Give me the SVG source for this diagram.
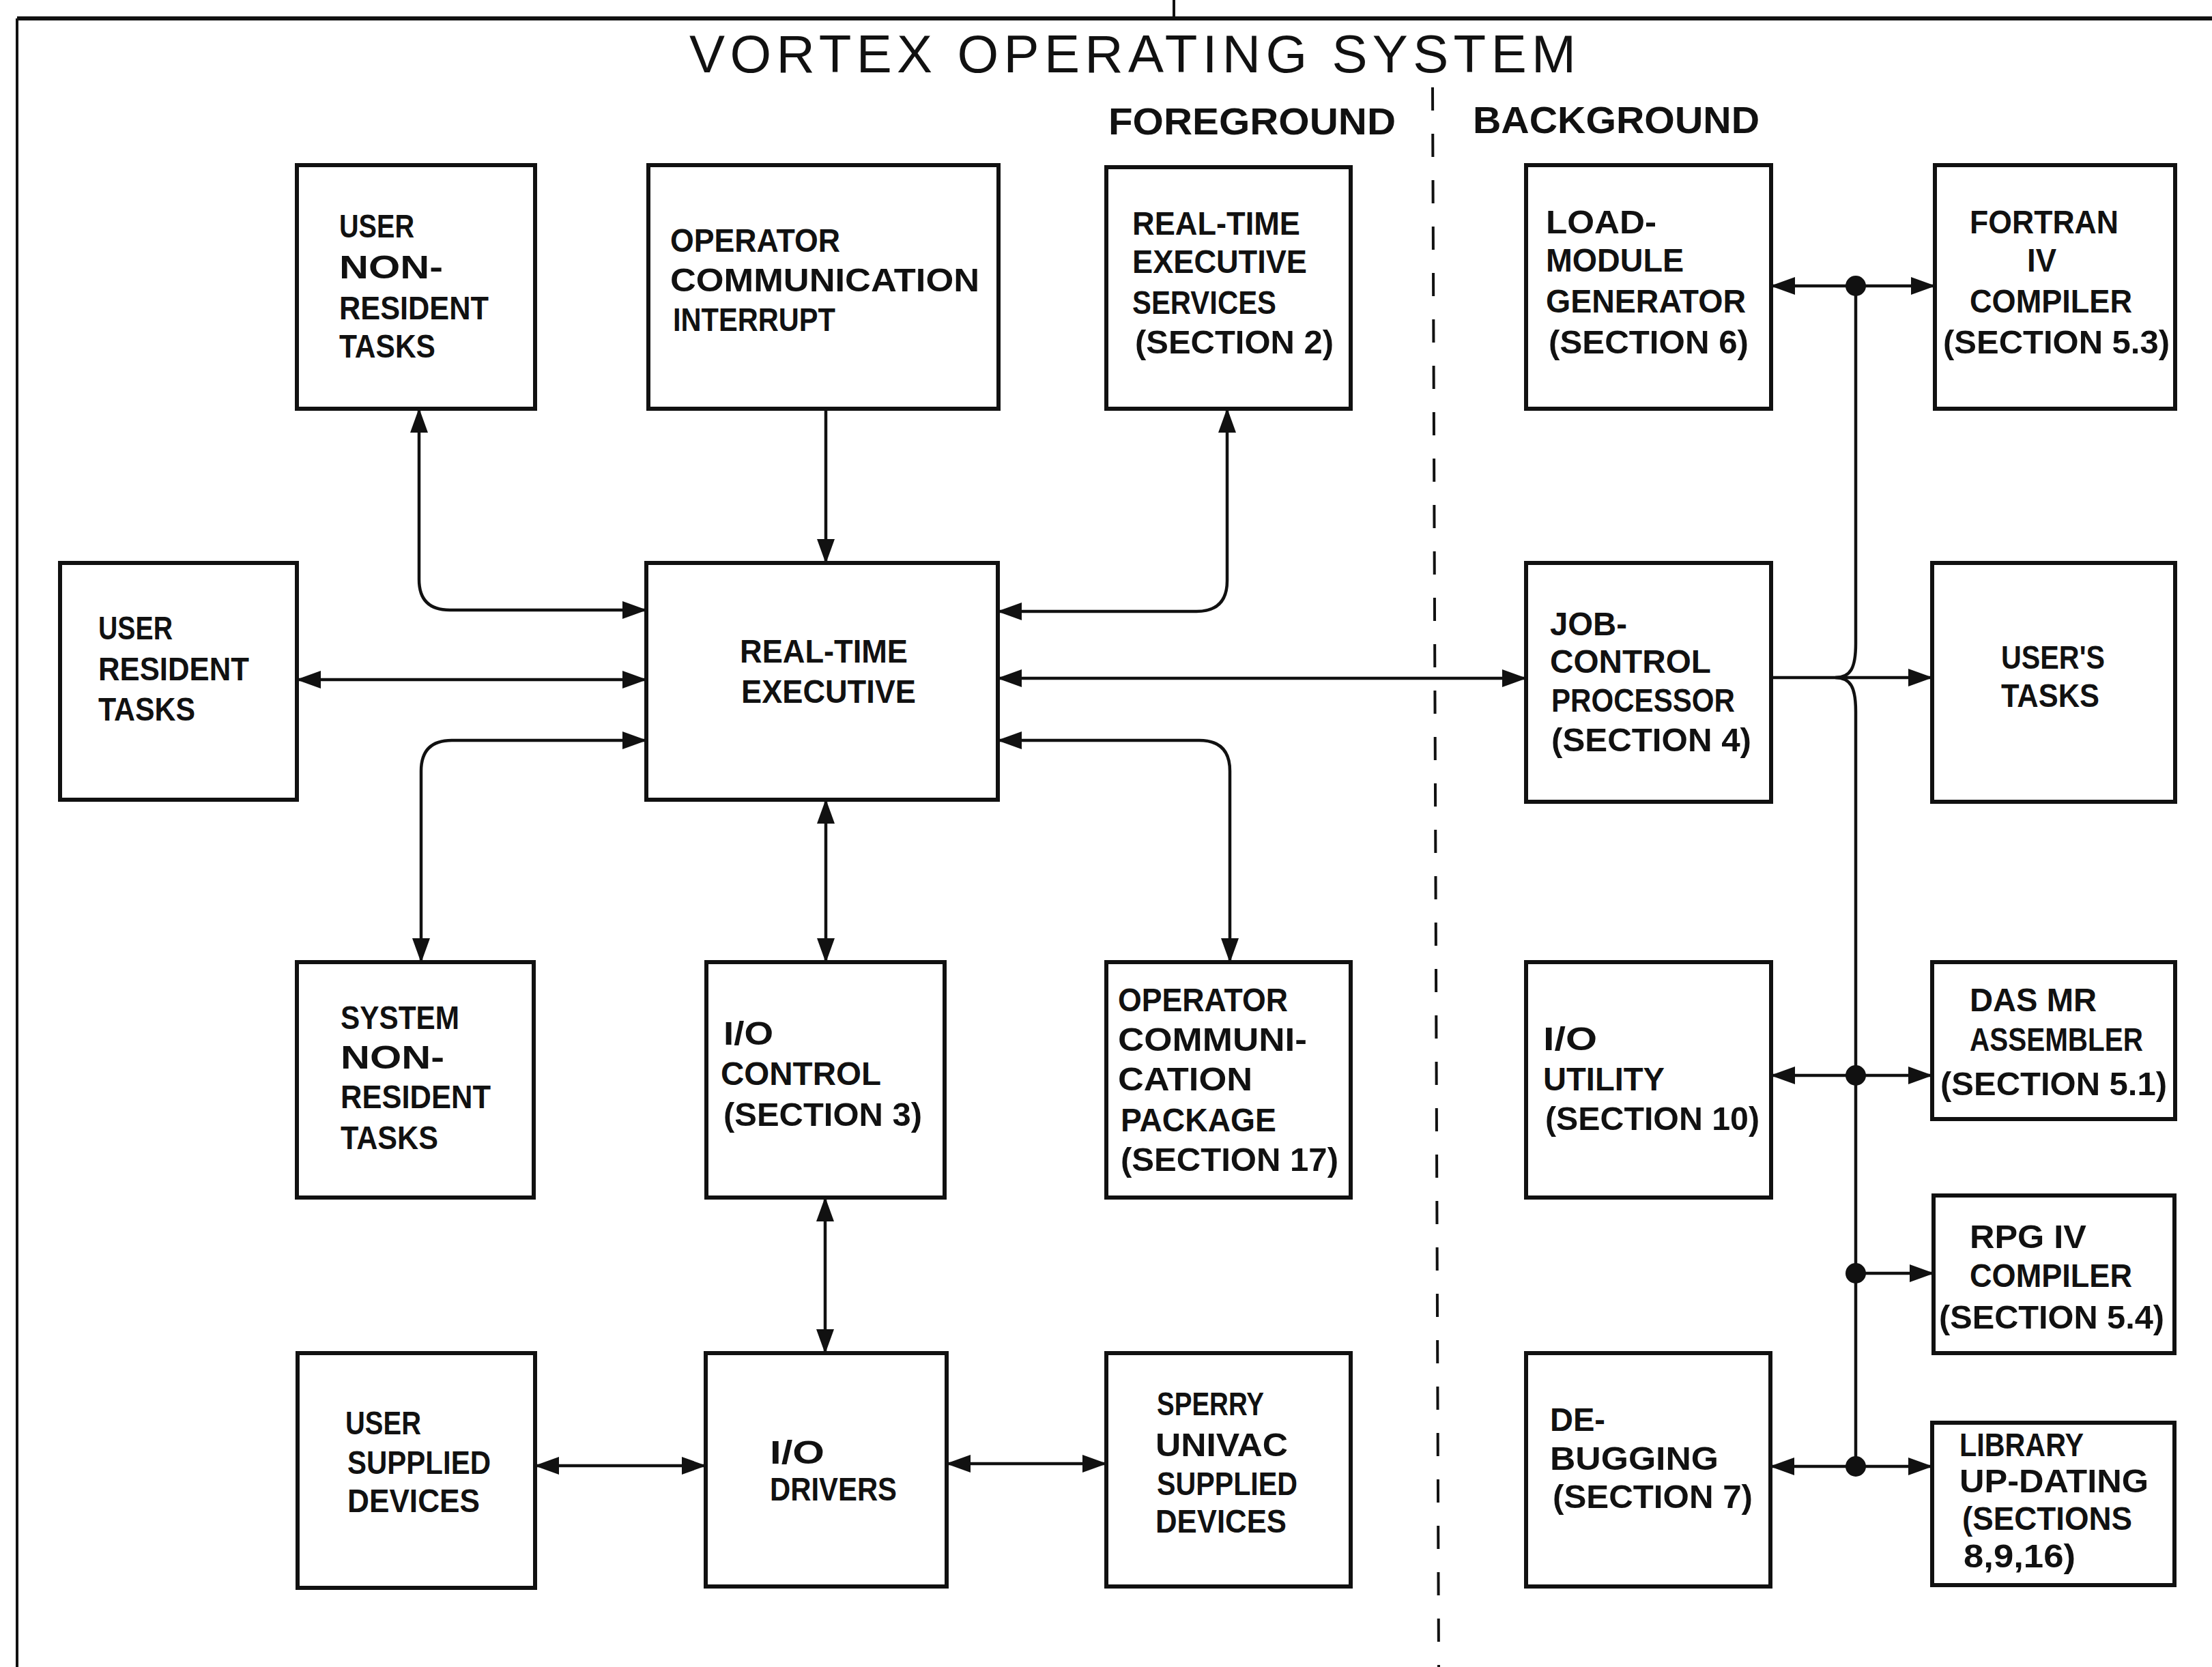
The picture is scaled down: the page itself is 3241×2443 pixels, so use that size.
<svg xmlns="http://www.w3.org/2000/svg" width="3241" height="2443" viewBox="0 0 3241 2443">
<style>
.bg{fill:#fff}
.box{fill:none;stroke:#111;stroke-width:6}
.lbl{font-family:"Liberation Sans",Arial,sans-serif;font-weight:bold;font-size:48px;fill:#111}
.hdr{font-family:"Liberation Sans",Arial,sans-serif;font-weight:bold;font-size:56px;fill:#111}
.title{font-family:"Liberation Sans",Arial,sans-serif;font-size:78px;fill:#111}
.ln{fill:none;stroke:#111;stroke-width:4.5}
.ar{marker-start:url(#ah);marker-end:url(#ah)}
.ae{marker-end:url(#ah)}
.dot{fill:#111}
</style>
<defs>
<marker id="ah" markerUnits="userSpaceOnUse" markerWidth="36" markerHeight="26" refX="35" refY="13" orient="auto-start-reverse">
<path d="M0,0 L36,13 L0,26 z" fill="#111"/>
</marker>
</defs>
<rect class="bg" x="0" y="0" width="3241" height="2443"/>
<g id="frame">
<line x1="25" y1="27" x2="3241" y2="27" stroke="#111" stroke-width="6"/>
<line x1="25" y1="27" x2="25" y2="2443" stroke="#111" stroke-width="4"/>
<line x1="1720" y1="0" x2="1720" y2="27" stroke="#111" stroke-width="4"/>
<line x1="2099" y1="128" x2="2108" y2="2443" stroke="#111" stroke-width="4" stroke-dasharray="34 34"/>
<text class="title" x="1010" y="106" textLength="1299" lengthAdjust="spacing">VORTEX OPERATING SYSTEM</text>
<text class="hdr" x="1624" y="197" textLength="421" lengthAdjust="spacingAndGlyphs">FOREGROUND</text>
<text class="hdr" x="2158" y="195" textLength="420" lengthAdjust="spacingAndGlyphs">BACKGROUND</text>
</g>
<g id="connectors">
<path class="ln ar" d="M614,599 L614,849 Q614,894 659,894 L947,894"/>
<path class="ln ar" d="M435,996 H947"/>
<path class="ln ar" d="M947,1085 L662,1085 Q617,1085 617,1130 L617,1410"/>
<path class="ln ae" d="M1210,599 V825"/>
<path class="ln ar" d="M1798,599 L1798,851 Q1798,896 1753,896 L1462,896"/>
<path class="ln ar" d="M1462,994 H2236"/>
<path class="ln ar" d="M1462,1085 L1757,1085 Q1802,1085 1802,1130 L1802,1410"/>
<path class="ln ar" d="M1210,1172 V1410"/>
<path class="ln ar" d="M1209,1755 V1983"/>
<path class="ln ar" d="M784,2148 H1034"/>
<path class="ln ar" d="M1387,2145 H1621"/>
<path class="ln" d="M2719,419 L2719,943 C2719,978 2712,993 2689,993 C2712,993 2719,1008 2719,1043 L2719,2149"/>
<path class="ln ae" d="M2595,993 H2831"/>
<path class="ln ar" d="M2595,419 H2835"/>
<path class="ln ar" d="M2595,1576 H2831"/>
<path class="ln ae" d="M2719,1866 H2833"/>
<path class="ln ar" d="M2594,2149 H2831"/>
<circle class="dot" cx="2719" cy="419" r="15"/>
<circle class="dot" cx="2719" cy="1576" r="15"/>
<circle class="dot" cx="2719" cy="1866" r="15"/>
<circle class="dot" cx="2719" cy="2149" r="15"/>
</g>
<g id="user-non-resident-tasks">
<rect class="box" x="435" y="242" width="349" height="357"/>
<text class="lbl" x="497" y="348" textLength="110" lengthAdjust="spacingAndGlyphs">USER</text>
<text class="lbl" x="497" y="408" textLength="152" lengthAdjust="spacingAndGlyphs">NON-</text>
<text class="lbl" x="497" y="468" textLength="219" lengthAdjust="spacingAndGlyphs">RESIDENT</text>
<text class="lbl" x="497" y="524" textLength="141" lengthAdjust="spacingAndGlyphs">TASKS</text>
</g>
<g id="operator-communication-interrupt">
<rect class="box" x="950" y="242" width="513" height="357"/>
<text class="lbl" x="982" y="369" textLength="249" lengthAdjust="spacingAndGlyphs">OPERATOR</text>
<text class="lbl" x="982" y="427" textLength="453" lengthAdjust="spacingAndGlyphs">COMMUNICATION</text>
<text class="lbl" x="986" y="485" textLength="238" lengthAdjust="spacingAndGlyphs">INTERRUPT</text>
</g>
<g id="real-time-executive-services">
<rect class="box" x="1621" y="245" width="358" height="354"/>
<text class="lbl" x="1659" y="344" textLength="246" lengthAdjust="spacingAndGlyphs">REAL-TIME</text>
<text class="lbl" x="1659" y="400" textLength="256" lengthAdjust="spacingAndGlyphs">EXECUTIVE</text>
<text class="lbl" x="1659" y="460" textLength="211" lengthAdjust="spacingAndGlyphs">SERVICES</text>
<text class="lbl" x="1663" y="518" textLength="291" lengthAdjust="spacingAndGlyphs">(SECTION 2)</text>
</g>
<g id="load-module-generator">
<rect class="box" x="2236" y="242" width="359" height="357"/>
<text class="lbl" x="2265" y="342" textLength="162" lengthAdjust="spacingAndGlyphs">LOAD-</text>
<text class="lbl" x="2265" y="398" textLength="202" lengthAdjust="spacingAndGlyphs">MODULE</text>
<text class="lbl" x="2265" y="458" textLength="293" lengthAdjust="spacingAndGlyphs">GENERATOR</text>
<text class="lbl" x="2269" y="518" textLength="293" lengthAdjust="spacingAndGlyphs">(SECTION 6)</text>
</g>
<g id="fortran-iv-compiler">
<rect class="box" x="2835" y="242" width="352" height="357"/>
<text class="lbl" x="2886" y="342" textLength="218" lengthAdjust="spacingAndGlyphs">FORTRAN</text>
<text class="lbl" x="2970" y="398" textLength="43" lengthAdjust="spacingAndGlyphs">IV</text>
<text class="lbl" x="2886" y="458" textLength="238" lengthAdjust="spacingAndGlyphs">COMPILER</text>
<text class="lbl" x="2847" y="518" textLength="332" lengthAdjust="spacingAndGlyphs">(SECTION 5.3)</text>
</g>
<g id="user-resident-tasks">
<rect class="box" x="88" y="825" width="347" height="347"/>
<text class="lbl" x="144" y="937" textLength="109" lengthAdjust="spacingAndGlyphs">USER</text>
<text class="lbl" x="144" y="997" textLength="221" lengthAdjust="spacingAndGlyphs">RESIDENT</text>
<text class="lbl" x="144" y="1056" textLength="142" lengthAdjust="spacingAndGlyphs">TASKS</text>
</g>
<g id="real-time-executive">
<rect class="box" x="947" y="825" width="515" height="347"/>
<text class="lbl" x="1084" y="971" textLength="246" lengthAdjust="spacingAndGlyphs">REAL-TIME</text>
<text class="lbl" x="1086" y="1030" textLength="256" lengthAdjust="spacingAndGlyphs">EXECUTIVE</text>
</g>
<g id="job-control-processor">
<rect class="box" x="2236" y="825" width="359" height="350"/>
<text class="lbl" x="2271" y="931" textLength="113" lengthAdjust="spacingAndGlyphs">JOB-</text>
<text class="lbl" x="2271" y="986" textLength="236" lengthAdjust="spacingAndGlyphs">CONTROL</text>
<text class="lbl" x="2273" y="1043" textLength="269" lengthAdjust="spacingAndGlyphs">PROCESSOR</text>
<text class="lbl" x="2273" y="1101" textLength="293" lengthAdjust="spacingAndGlyphs">(SECTION 4)</text>
</g>
<g id="users-tasks">
<rect class="box" x="2831" y="825" width="356" height="350"/>
<text class="lbl" x="2932" y="980" textLength="152" lengthAdjust="spacingAndGlyphs">USER'S</text>
<text class="lbl" x="2932" y="1036" textLength="144" lengthAdjust="spacingAndGlyphs">TASKS</text>
</g>
<g id="system-non-resident-tasks">
<rect class="box" x="435" y="1410" width="347" height="345"/>
<text class="lbl" x="499" y="1508" textLength="174" lengthAdjust="spacingAndGlyphs">SYSTEM</text>
<text class="lbl" x="499" y="1566" textLength="152" lengthAdjust="spacingAndGlyphs">NON-</text>
<text class="lbl" x="499" y="1624" textLength="220" lengthAdjust="spacingAndGlyphs">RESIDENT</text>
<text class="lbl" x="499" y="1684" textLength="143" lengthAdjust="spacingAndGlyphs">TASKS</text>
</g>
<g id="io-control">
<rect class="box" x="1035" y="1410" width="349" height="345"/>
<text class="lbl" x="1060" y="1531" textLength="73" lengthAdjust="spacingAndGlyphs">I/O</text>
<text class="lbl" x="1056" y="1590" textLength="235" lengthAdjust="spacingAndGlyphs">CONTROL</text>
<text class="lbl" x="1060" y="1650" textLength="291" lengthAdjust="spacingAndGlyphs">(SECTION 3)</text>
</g>
<g id="operator-communication-package">
<rect class="box" x="1621" y="1410" width="358" height="345"/>
<text class="lbl" x="1638" y="1482" textLength="249" lengthAdjust="spacingAndGlyphs">OPERATOR</text>
<text class="lbl" x="1638" y="1540" textLength="277" lengthAdjust="spacingAndGlyphs">COMMUNI-</text>
<text class="lbl" x="1638" y="1598" textLength="197" lengthAdjust="spacingAndGlyphs">CATION</text>
<text class="lbl" x="1642" y="1658" textLength="228" lengthAdjust="spacingAndGlyphs">PACKAGE</text>
<text class="lbl" x="1642" y="1716" textLength="319" lengthAdjust="spacingAndGlyphs">(SECTION 17)</text>
</g>
<g id="io-utility">
<rect class="box" x="2236" y="1410" width="359" height="345"/>
<text class="lbl" x="2261" y="1539" textLength="79" lengthAdjust="spacingAndGlyphs">I/O</text>
<text class="lbl" x="2261" y="1598" textLength="178" lengthAdjust="spacingAndGlyphs">UTILITY</text>
<text class="lbl" x="2264" y="1656" textLength="314" lengthAdjust="spacingAndGlyphs">(SECTION 10)</text>
</g>
<g id="das-mr-assembler">
<rect class="box" x="2831" y="1410" width="356" height="230"/>
<text class="lbl" x="2886" y="1482" textLength="186" lengthAdjust="spacingAndGlyphs">DAS MR</text>
<text class="lbl" x="2886" y="1540" textLength="254" lengthAdjust="spacingAndGlyphs">ASSEMBLER</text>
<text class="lbl" x="2843" y="1605" textLength="332" lengthAdjust="spacingAndGlyphs">(SECTION 5.1)</text>
</g>
<g id="rpg-iv-compiler">
<rect class="box" x="2833" y="1752" width="353" height="231"/>
<text class="lbl" x="2886" y="1829" textLength="171" lengthAdjust="spacingAndGlyphs">RPG IV</text>
<text class="lbl" x="2886" y="1886" textLength="238" lengthAdjust="spacingAndGlyphs">COMPILER</text>
<text class="lbl" x="2841" y="1947" textLength="330" lengthAdjust="spacingAndGlyphs">(SECTION 5.4)</text>
</g>
<g id="library-up-dating">
<rect class="box" x="2831" y="2085" width="355" height="238"/>
<text class="lbl" x="2871" y="2134" textLength="182" lengthAdjust="spacingAndGlyphs">LIBRARY</text>
<text class="lbl" x="2871" y="2187" textLength="277" lengthAdjust="spacingAndGlyphs">UP-DATING</text>
<text class="lbl" x="2875" y="2242" textLength="249" lengthAdjust="spacingAndGlyphs">(SECTIONS</text>
<text class="lbl" x="2877" y="2297" textLength="164" lengthAdjust="spacingAndGlyphs">8,9,16)</text>
</g>
<g id="user-supplied-devices">
<rect class="box" x="436" y="1983" width="348" height="344"/>
<text class="lbl" x="506" y="2102" textLength="111" lengthAdjust="spacingAndGlyphs">USER</text>
<text class="lbl" x="509" y="2160" textLength="210" lengthAdjust="spacingAndGlyphs">SUPPLIED</text>
<text class="lbl" x="509" y="2216" textLength="194" lengthAdjust="spacingAndGlyphs">DEVICES</text>
</g>
<g id="io-drivers">
<rect class="box" x="1034" y="1983" width="353" height="342"/>
<text class="lbl" x="1128" y="2145" textLength="80" lengthAdjust="spacingAndGlyphs">I/O</text>
<text class="lbl" x="1128" y="2199" textLength="186" lengthAdjust="spacingAndGlyphs">DRIVERS</text>
</g>
<g id="sperry-univac-supplied-devices">
<rect class="box" x="1621" y="1983" width="358" height="342"/>
<text class="lbl" x="1695" y="2074" textLength="157" lengthAdjust="spacingAndGlyphs">SPERRY</text>
<text class="lbl" x="1693" y="2134" textLength="194" lengthAdjust="spacingAndGlyphs">UNIVAC</text>
<text class="lbl" x="1695" y="2191" textLength="206" lengthAdjust="spacingAndGlyphs">SUPPLIED</text>
<text class="lbl" x="1693" y="2246" textLength="192" lengthAdjust="spacingAndGlyphs">DEVICES</text>
</g>
<g id="de-bugging">
<rect class="box" x="2236" y="1983" width="358" height="342"/>
<text class="lbl" x="2271" y="2097" textLength="81" lengthAdjust="spacingAndGlyphs">DE-</text>
<text class="lbl" x="2271" y="2154" textLength="247" lengthAdjust="spacingAndGlyphs">BUGGING</text>
<text class="lbl" x="2275" y="2210" textLength="293" lengthAdjust="spacingAndGlyphs">(SECTION 7)</text>
</g>
</svg>
